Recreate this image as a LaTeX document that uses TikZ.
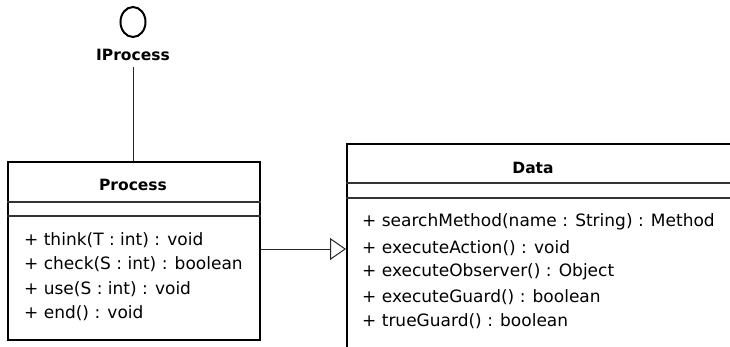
\documentclass[tikz,border=0pt]{standalone}
\usepackage{fontspec}
\setmainfont{DejaVu Sans}
\usetikzlibrary{arrows.meta,shapes.geometric}
\tikzset{
  classbox/.style={draw=black, line width=2.4pt, fill=white, inner sep=0pt, anchor=north west},
  sepline/.style={draw=black!80, line width=1.3pt},
  member/.style={anchor=west, inner sep=0pt, font=\fontsize{17}{19}\selectfont},
  classtitle/.style={inner sep=0pt, font=\fontsize{15.5}{18}\selectfont\bfseries},
  link/.style={draw=black!85, line width=1pt},
  realize/.style={link, -{Triangle[open, length=16pt, width=22pt, line width=1pt, fill=white]}}
}
\begin{document}
\begin{tikzpicture}[x=1pt, y=-1pt]
  \useasboundingbox (0,0) rectangle (730,346);
  \clip (0,0) rectangle (730,346);
  \fill[white] (0,0) rectangle (730,346);

  % interface lollipop
  \node[draw=black, line width=2pt, ellipse, minimum width=25pt, minimum height=30pt, inner sep=0pt] (iface) at (133,22) {};
  \node[classtitle] (ifacelabel) at (133,55) {IProcess};

  % class Process
  \node[classbox, minimum width=252pt, minimum height=178pt] (process) at (7,161) {};
  \node[classtitle] (processtitle) at (133,185) {Process};
  \draw[sepline] (process.north west |- 0,202) -- (process.north east |- 0,202);
  \draw[sepline] (process.north west |- 0,216) -- (process.north east |- 0,216);
  \node[member] (p1) at (24,240) {+ think(T : int) : void};
  \node[member] (p2) at (24,264) {+ check(S : int) : boolean};
  \node[member] (p3) at (24,289) {+ use(S : int) : void};
  \node[member] (p4) at (24,313) {+ end() : void};

  % class Data (runs past the right and bottom edges)
  \node[classbox, minimum width=420pt, minimum height=210pt] (data) at (346,143) {};
  \node[classtitle] (datatitle) at (533,168) {Data};
  \draw[sepline] (data.north west |- 0,183) -- (data.north east |- 0,183);
  \draw[sepline] (data.north west |- 0,198) -- (data.north east |- 0,198);
  \node[member] (d1) at (362,222) {+ searchMethod(name : String) : Method};
  \node[member] (d2) at (362,248) {+ executeAction() : void};
  \node[member] (d3) at (362,272) {+ executeObserver() : Object};
  \node[member] (d4) at (362,297) {+ executeGuard() : boolean};
  \node[member] (d5) at (362,321) {+ trueGuard() : boolean};

  % connectors
  \draw[link] (ifacelabel.south |- 0,67) -- (process.north -| ifacelabel.south);
  \draw[realize] (process.east |- 0,249) -- (data.west |- 0,249);
\end{tikzpicture}
\end{document}
